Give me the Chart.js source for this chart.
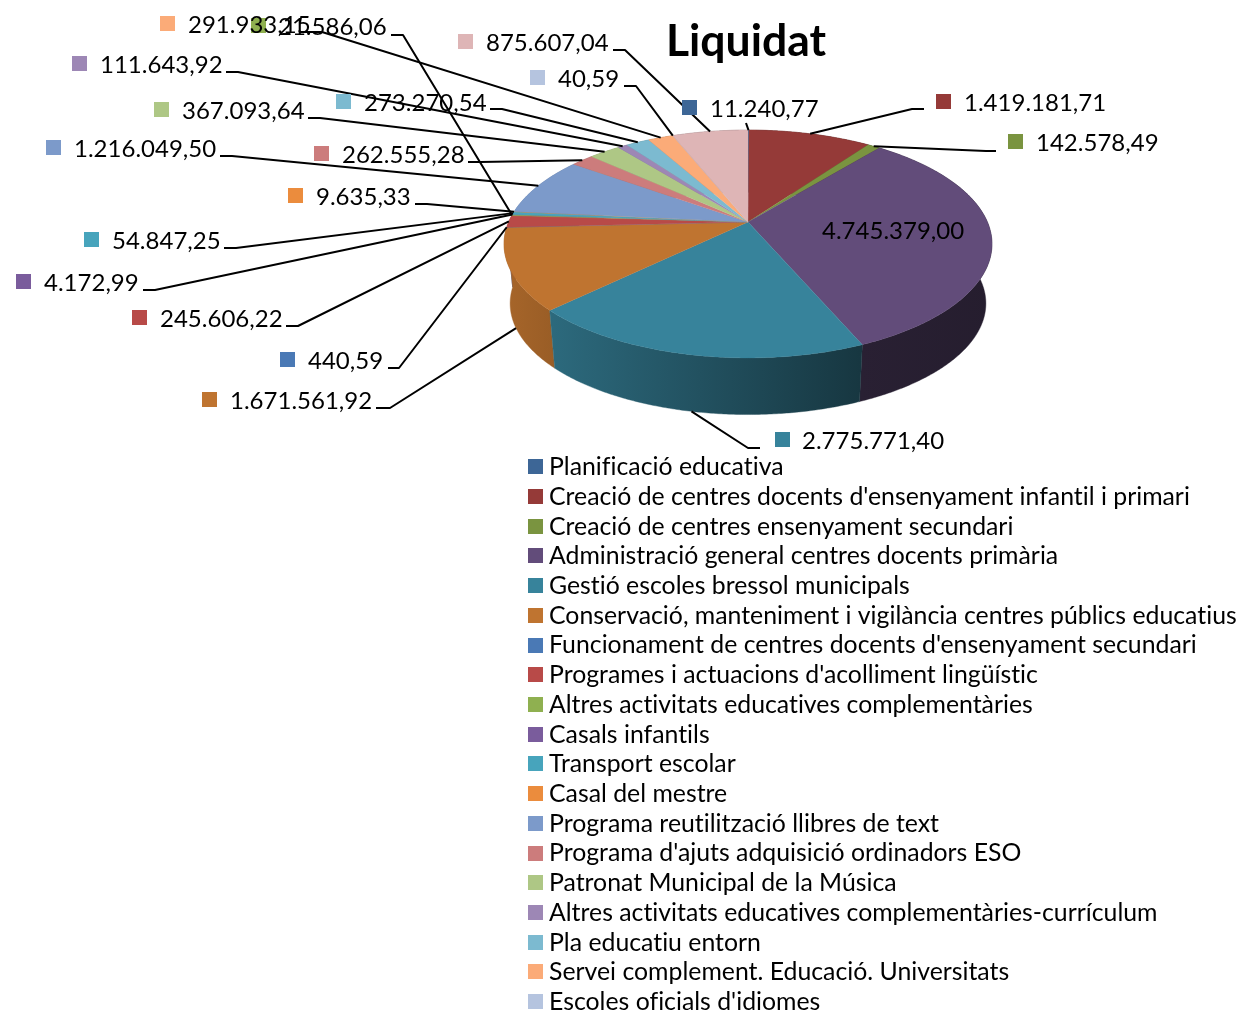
<!DOCTYPE html>
<html><head><meta charset="utf-8">
<style>html,body{margin:0;padding:0;background:#fff}canvas{display:block}</style>
<script src="https://cdn.jsdelivr.net/npm/chart.js@4"></script>
</head><body><canvas id="c" width="1242" height="1010"></canvas>
<script>
const chartTitle = "Liquidat";
const categories = [
"Planificació educativa","Creació de centres docents d'ensenyament infantil i primari","Creació de centres ensenyament secundari",
"Administració general centres docents primària","Gestió escoles bressol municipals","Conservació, manteniment i vigilància centres públics educatius",
"Funcionament de centres docents d'ensenyament secundari","Programes i actuacions d'acolliment lingüístic","Altres activitats educatives complementàries",
"Casals infantils","Transport escolar","Casal del mestre","Programa reutilització llibres de text","Programa d'ajuts adquisició ordinadors ESO",
"Patronat Municipal de la Música","Altres activitats educatives complementàries-currículum","Pla educatiu entorn","Servei complement. Educació. Universitats",
"Escoles oficials d'idiomes",""];
const liquidat = [11240.77,1419181.71,142578.49,4745379.00,2775771.40,1671561.92,440.59,245606.22,21586.06,4172.99,54847.25,9635.33,1216049.50,262555.28,367093.64,111643.92,273270.54,291933.15,40.59,875607.04];
const colors = ["#3D6696","#953A38","#7A9440","#624C7A","#37839B","#BF7430","#4A79B5","#B84A48","#8FB050","#7A5C9C","#47A4BC","#EB8C3D","#7C9ACA","#CC7C7C","#AEC785","#9D87B5","#7CBAD0","#FBAB78","#B5C4DF","#DEB5B6"];

// layout of the value labels: [swatch x, text x, centre y]
const labelPos = [[682,710,109],[936,964,103],[1008,1036,143],[null,822,231],[775,802,441],[202,230,401],[280,308,361],[132,160,319],[251,278,27],[16,44,283],[84,112,241],[288,316,197],[46,74,149],[314,342,155],[154,182,111],[72,100,65],[336,364,103],[160,188,25],[530,558,79],[458,486,43]];
// leader line start and elbow; the last point comes from the slice itself
const leaderPos = [[[746,123]],[[924,109],[912,109]],[[996,151],[986,151]],null,[[760,448],[748,448]],[[376,408],[390,408]],[[388,368],[399,368]],[[286,326],[298,326]],[[391,35],[403,35]],[[143,290],[155,290]],[[224,248],[236,248]],[[415,204],[427,204]],[[220,156],[232,156]],[[468,162],[480,162]],[[308,118],[320,118]],[[226,72],[238,72]],[[490,109],[502,109]],[[300,32],[322,32]],[[624,86],[636,86]],[[613,50],[625,50]]];
const onWall = [4,5];

const P = {cx:748, cy:222, R:239.4, s:109.7, k:0.193, lowScale:0.975, lowDrop:60};
const FONT = "Lato, Carlito, sans-serif";

function rim(a){ // a: canvas angle of the library's arc element
  const u=Math.cos(a), v=Math.sin(a), w=1/(1-P.k*v);
  return {x:P.cx+P.R*u*w, y:P.cy+P.s*v*w};
}
function low(p){ return {x:P.cx+(p.x-P.cx)*P.lowScale, y:P.cy+(p.y-P.cy)*P.lowScale+P.lowDrop}; }
function rgb(h){ return [1,3,5].map(i=>parseInt(h.substr(i,2),16)); }
function shade(h,f){ return "rgb("+rgb(h).map(c=>Math.round(c*f)).join(",")+")"; }
const wallStops=[[500,.88],[555,.80],[700,.62],[860,.42],[1000,.38]];
function wallFill(ctx,h){
  const g=ctx.createLinearGradient(500,0,1000,0);
  wallStops.forEach(([x,f])=>g.addColorStop((x-500)/500,shade(h,f)));
  return g;
}
function arcPts(s,e){
  const n=Math.max(2,Math.ceil((e-s)/(Math.PI/360))), pts=[];
  for(let i=0;i<=n;i++) pts.push(rim(s+(e-s)*i/n));
  return pts;
}
function fmt(v){
  const [a,b]=v.toFixed(2).split(".");
  return a.replace(/\B(?=(\d{3})+$)/g,".")+","+b;
}

const pie3d = {
  id:"pie3d",
  beforeDatasetsDraw(chart){
    const ctx=chart.ctx, arcs=chart.getDatasetMeta(0).data, cols=chart.data.datasets[0].backgroundColor;
    ctx.save();
    // walls, back to front
    const order=arcs.map((el,i)=>i).sort((a,b)=>
      Math.sin((arcs[a].startAngle+arcs[a].endAngle)/2)-Math.sin((arcs[b].startAngle+arcs[b].endAngle)/2));
    order.forEach(i=>{
      const el=arcs[i], pts=arcPts(el.startAngle,el.endAngle);
      ctx.beginPath();
      pts.forEach((p,j)=> j?ctx.lineTo(p.x,p.y):ctx.moveTo(p.x,p.y));
      pts.slice().reverse().forEach(p=>{const q=low(p);ctx.lineTo(q.x,q.y);});
      ctx.closePath();
      const f=wallFill(ctx,cols[i]);
      ctx.fillStyle=f; ctx.fill();
      ctx.strokeStyle=f; ctx.lineWidth=.4; ctx.stroke();
    });
    // top faces
    arcs.forEach((el,i)=>{
      const pts=arcPts(el.startAngle,el.endAngle);
      ctx.beginPath(); ctx.moveTo(P.cx,P.cy);
      pts.forEach(p=>ctx.lineTo(p.x,p.y));
      ctx.closePath();
      ctx.fillStyle=cols[i]; ctx.fill();
      ctx.strokeStyle=cols[i]; ctx.lineWidth=.3; ctx.stroke();
    });
    ctx.restore();
    return false;
  },
  afterDraw(chart){
    const ctx=chart.ctx, arcs=chart.getDatasetMeta(0).data, ds=chart.data.datasets[0];
    ctx.save();
    // leaders
    ctx.strokeStyle="#000"; ctx.lineWidth=2; ctx.lineJoin="round";
    leaderPos.forEach((pts,i)=>{
      if(!pts) return;
      const el=arcs[i];
      let e=rim((el.startAngle+el.endAngle)/2);
      if(onWall.includes(i)) e=low(e);
      ctx.beginPath();
      pts.forEach((p,j)=> j?ctx.lineTo(p[0],p[1]):ctx.moveTo(p[0],p[1]));
      ctx.lineTo(e.x,e.y); ctx.stroke();
    });
    // value labels
    ctx.letterSpacing="0.01px";
    ctx.textBaseline="middle"; ctx.textAlign="left";
    ctx.font="24px "+FONT; ctx.fillStyle="#000";
    labelPos.forEach(([sx,tx,cy],i)=>{
      if(sx!==null){ ctx.fillStyle=ds.backgroundColor[i]; ctx.fillRect(sx,cy-9,15,15); }
      ctx.fillStyle="#000";
      ctx.fillText(fmt(ds.data[i]),tx,cy+0.5);
    });
    // legend
    ctx.font="24.8px "+FONT;
    chart.data.labels.forEach((t,i)=>{
      const cy=466.7+i*29.72;
      ctx.fillStyle=ds.backgroundColor[i]; ctx.fillRect(528,Math.round(cy-7.5),15,15);
      ctx.fillStyle="#000"; ctx.fillText(t,549,cy+0.4);
    });
    // title
    ctx.font="bold 44.5px "+FONT; ctx.textAlign="center"; ctx.fillStyle="#000";
    ctx.fillText(chartTitle,746,42);
    ctx.restore();
  }
};

new Chart(document.getElementById("c"),{
  type:"pie",
  data:{labels:categories,datasets:[{data:liquidat,backgroundColor:colors,borderWidth:0}]},
  options:{responsive:false,animation:false,rotation:0,
    plugins:{legend:{display:false},tooltip:{enabled:false},title:{display:false}}},
  plugins:[pie3d]
});
</script></body></html>
